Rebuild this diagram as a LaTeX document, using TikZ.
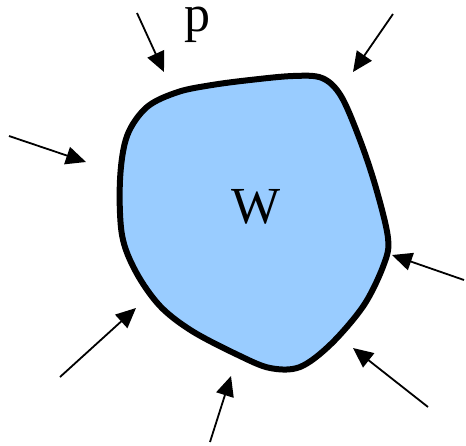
\documentclass[tikz,border=0pt]{standalone}
\usepackage{fontspec}
\setmainfont{Liberation Serif}
\usetikzlibrary{arrows.meta}
\definecolor{Body}{HTML}{99CCFF}
\definecolor{Ink}{HTML}{000000}
\tikzset{
  outline/.style={draw=Ink,line width=3pt,fill=Body,line join=round},
  push/.style={-{Triangle[length=10pt,width=9pt]},line width=0.9pt,draw=Ink},
  tag/.style={text=Ink,font=\fontsize{26}{30}\selectfont,inner sep=0pt}
}
\begin{document}
\begin{tikzpicture}[x=0.5pt,y=-0.5pt]
\useasboundingbox (0,0) rectangle (466,445);
\draw[outline] plot[smooth cycle,tension=0.55] coordinates {
  (147,107) (178,92) (212,85) (250,80) (293,76) (322,78) (341,96)
  (360,140) (376,188) (388,238) (384,264) (364,305) (331,344)
  (300,367) (270,368) (238,355) (192,331) (160,306) (136,272)
  (122,235) (120,180) (127,136)};
\node[tag] (load) at (197,25) {p};
\node[tag] (body) at (256,207) {W};
% load arrows
\coordinate (t1) at (137,13);  \coordinate (h1) at (164,72);
\coordinate (t2) at (393,14);  \coordinate (h2) at (353,72);
\coordinate (t3) at (9,136);   \coordinate (h3) at (86,162);
\coordinate (t4) at (464,280); \coordinate (h4) at (392,255);
\coordinate (t5) at (428,407); \coordinate (h5) at (353,348);
\coordinate (t6) at (60,377);  \coordinate (h6) at (136,308);
\coordinate (t7) at (210,442); \coordinate (h7) at (231,376);
\foreach \i in {1,...,7} \draw[push] (t\i) -- (h\i);
\end{tikzpicture}
\end{document}
